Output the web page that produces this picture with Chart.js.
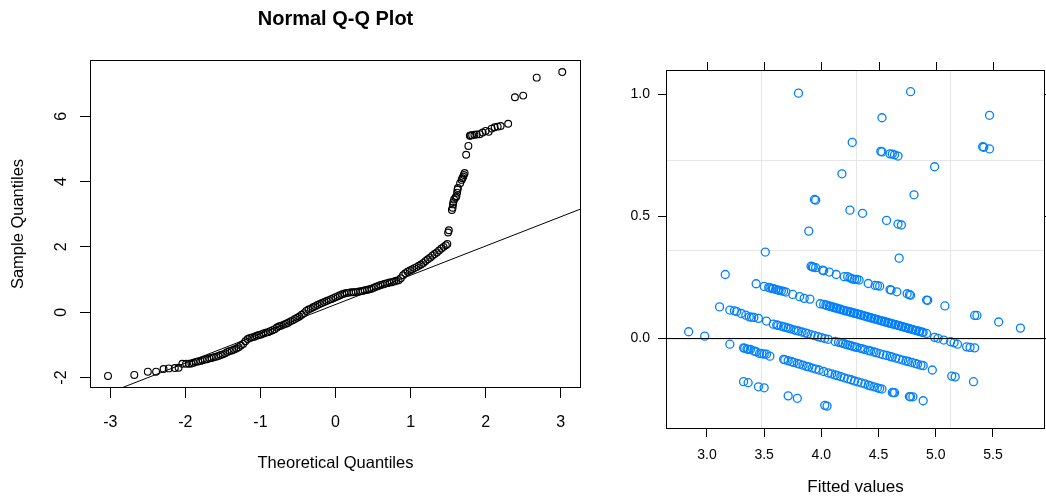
<!DOCTYPE html>
<html><head><meta charset="utf-8">
<script src="https://cdn.jsdelivr.net/npm/chart.js@4/dist/chart.umd.min.js"></script>
<style>
html,body{margin:0;padding:0;background:#fff;overflow:hidden;width:1046px;height:500px;}
#c1{position:absolute;left:0;top:0;}
#c2{position:absolute;left:600px;top:0;}
</style></head><body>
<canvas id="c1" width="620" height="500"></canvas>
<canvas id="c2" width="460" height="500"></canvas>
<script>
// ---------- Left panel: Normal Q-Q plot (theoretical, sample) ----------
const qqPoints = [
[-3.03,-1.95],[-2.68,-1.92],[-2.50,-1.82],[-2.39,-1.82],[-2.29,-1.74],[-2.22,-1.72],[-2.14,-1.71],[-2.09,-1.70],
[-2.04,-1.58],[-1.99,-1.58],[-1.95,-1.58],[-1.92,-1.57],[-1.89,-1.55],[-1.86,-1.52],[-1.83,-1.51],[-1.80,-1.49],
[-1.77,-1.47],[-1.74,-1.45],[-1.71,-1.44],[-1.68,-1.41],[-1.65,-1.40],[-1.62,-1.38],[-1.59,-1.36],[-1.56,-1.34],
[-1.53,-1.31],[-1.50,-1.29],[-1.47,-1.26],[-1.44,-1.22],[-1.41,-1.19],[-1.38,-1.17],[-1.35,-1.14],[-1.32,-1.11],
[-1.29,-1.07],[-1.26,-1.02],[-1.23,-0.97],[-1.20,-0.89],
[-1.17,-0.82],[-1.14,-0.79],[-1.11,-0.77],[-1.08,-0.75],[-1.05,-0.72],[-1.02,-0.70],[-0.99,-0.68],[-0.96,-0.65],
[-0.93,-0.63],[-0.90,-0.61],[-0.87,-0.58],[-0.84,-0.55],[-0.81,-0.52],[-0.78,-0.47],[-0.75,-0.43],[-0.72,-0.41],
[-0.69,-0.38],[-0.66,-0.35],[-0.63,-0.32],[-0.60,-0.28],[-0.57,-0.25],[-0.54,-0.21],[-0.51,-0.17],[-0.48,-0.13],
[-0.45,-0.08],[-0.42,-0.03],[-0.39,0.04],[-0.36,0.08],[-0.33,0.11],[-0.30,0.15],[-0.27,0.18],[-0.24,0.22],
[-0.21,0.25],[-0.18,0.28],[-0.15,0.31],[-0.12,0.34],[-0.09,0.37],[-0.06,0.40],[-0.03,0.43],[0.00,0.46],
[0.03,0.49],[0.06,0.52],[0.09,0.55],[0.12,0.57],[0.15,0.59],[0.18,0.60],[0.21,0.61],[0.24,0.61],
[0.27,0.62],[0.30,0.63],[0.33,0.64],[0.36,0.65],[0.39,0.67],[0.42,0.68],[0.45,0.70],[0.48,0.72],
[0.51,0.75],[0.54,0.78],[0.57,0.80],[0.60,0.83],[0.63,0.85],[0.66,0.87],[0.69,0.89],[0.72,0.91],
[0.75,0.92],[0.78,0.94],[0.81,0.96],[0.84,0.98],[0.87,1.04],
[0.90,1.13],[0.93,1.19],[0.96,1.24],[0.99,1.28],[1.02,1.31],[1.05,1.35],[1.08,1.38],[1.11,1.42],
[1.14,1.46],[1.17,1.51],[1.20,1.57],[1.23,1.62],[1.26,1.67],[1.29,1.73],[1.32,1.78],[1.35,1.83],
[1.38,1.89],[1.41,1.95],[1.44,2.00],[1.47,2.05],[1.49,2.09],[1.50,2.44],[1.51,2.51],
[1.55,3.13],[1.56,3.20],[1.565,3.30],[1.57,3.37],[1.58,3.45],[1.60,3.51],[1.61,3.55],[1.62,3.66],
[1.625,3.75],[1.63,3.80],[1.66,3.95],[1.68,4.05],[1.69,4.10],[1.70,4.15],[1.71,4.20],[1.72,4.26],
[1.74,4.82],[1.77,5.09],[1.79,5.40],[1.80,5.41],[1.82,5.42],[1.85,5.43],[1.88,5.44],[1.92,5.45],
[1.96,5.50],[2.00,5.55],[2.04,5.52],[2.08,5.62],[2.12,5.66],[2.16,5.68],[2.20,5.70],[2.30,5.77],
[2.39,6.58],[2.50,6.63],[2.68,7.18],[3.02,7.35]
];
const qqLine = [[-3.3,-2.72],[3.3,3.19]];
const qqXTicks = [-3,-2,-1,0,1,2,3];
const qqYTicks = [-2,0,2,4,6];

// ---------- Right panel: residuals vs fitted values (fitted, residual) ----------
const bandA = [
[3.91,0.295],[3.92,0.293],[3.93,0.291],[3.95,0.289],[4.01,0.279],[4.02,0.276],[4.07,0.271],[4.13,0.261],
[4.20,0.252],[4.23,0.252],[4.25,0.247],[4.27,0.243],[4.29,0.241],[4.31,0.241],[4.33,0.238],[4.41,0.224],
[4.47,0.216],[4.49,0.215],[4.51,0.213],[4.60,0.199],[4.61,0.197],[4.66,0.190],[4.75,0.182],[4.77,0.178],
[4.78,0.176],[4.92,0.156],[4.93,0.155],[5.08,0.132],[5.34,0.093],[5.36,0.093],[5.55,0.066],[5.74,0.041]
];
const bandB = [
[3.43,0.223],[3.50,0.212],[3.54,0.208],[3.55,0.206],[3.57,0.204],[3.58,0.203],[3.60,0.200],[3.62,0.197],
[3.63,0.196],[3.65,0.194],[3.67,0.192],[3.69,0.189],[3.75,0.179],[3.81,0.170],[3.85,0.163],[3.90,0.160],
[3.99,0.141],[4.02,0.138],[4.04,0.136],[4.05,0.133],[4.07,0.132],[4.08,0.129],[4.10,0.128],[4.11,0.125],
[4.13,0.124],[4.14,0.121],[4.16,0.120],[4.17,0.117],[4.19,0.115],[4.20,0.113],[4.22,0.111],[4.23,0.110],
[4.25,0.107],[4.26,0.106],[4.28,0.103],[4.29,0.102],[4.31,0.100],[4.32,0.098],[4.34,0.096],[4.35,0.094],
[4.37,0.092],[4.38,0.090],[4.40,0.088],[4.41,0.086],[4.43,0.084],[4.44,0.082],[4.46,0.080],[4.47,0.078],
[4.49,0.076],[4.50,0.074],[4.52,0.072],[4.53,0.070],[4.55,0.068],[4.56,0.066],[4.58,0.064],[4.59,0.062],
[4.61,0.060],[4.62,0.058],[4.64,0.056],[4.65,0.055],[4.67,0.052],[4.68,0.051],[4.70,0.048],[4.71,0.047],
[4.73,0.044],[4.74,0.043],[4.76,0.040],[4.77,0.039],[4.79,0.036],[4.80,0.035],[4.82,0.032],[4.83,0.031],
[4.85,0.028],[4.86,0.027],[4.88,0.024],[4.89,0.023],[4.92,0.019],
[4.99,0.003],[5.02,-0.001],[5.07,-0.008],[5.13,-0.015],[5.16,-0.019],[5.19,-0.025],[5.27,-0.036],[5.30,-0.038],[5.34,-0.040]
];
const bandC = [
[3.11,0.128],[3.20,0.115],[3.24,0.112],[3.26,0.109],[3.30,0.101],[3.34,0.094],[3.37,0.087],[3.39,0.086],
[3.41,0.085],[3.45,0.081],[3.52,0.070],
[3.58,0.057],[3.61,0.054],[3.62,0.052],[3.65,0.049],[3.67,0.046],[3.69,0.044],[3.71,0.041],[3.73,0.038],
[3.76,0.034],[3.78,0.031],[3.80,0.029],[3.83,0.025],[3.86,0.021],[3.88,0.018],[3.91,0.014],[3.94,0.010],
[3.97,0.006],[4.00,0.002],[4.03,-0.002],[4.06,-0.005],[4.12,-0.014],[4.15,-0.017],[4.17,-0.019],[4.19,-0.022],
[4.21,-0.025],[4.23,-0.028],[4.25,-0.030],[4.27,-0.033],[4.29,-0.036],[4.31,-0.038],[4.34,-0.042],[4.36,-0.044],
[4.38,-0.047],[4.41,-0.051],[4.43,-0.053],[4.46,-0.057],[4.48,-0.060],[4.51,-0.064],[4.54,-0.068],[4.57,-0.071],
[4.60,-0.075],[4.62,-0.078],[4.65,-0.082],[4.68,-0.086],[4.71,-0.090],[4.74,-0.094],[4.76,-0.096],[4.79,-0.100],
[4.82,-0.104],[4.84,-0.107],[4.87,-0.111],[4.89,-0.113],
[4.97,-0.131],[5.14,-0.156],[5.17,-0.159],[5.33,-0.179]
];
const bandD = [
[3.20,-0.025],[3.32,-0.040],[3.33,-0.042],[3.35,-0.045],[3.36,-0.046],[3.38,-0.046],[3.41,-0.053],[3.43,-0.056],
[3.46,-0.063],[3.48,-0.064],[3.50,-0.066],[3.52,-0.066],[3.55,-0.074],
[3.67,-0.087],[3.68,-0.089],[3.71,-0.093],[3.74,-0.097],[3.76,-0.100],[3.79,-0.104],[3.81,-0.107],[3.84,-0.111],
[3.87,-0.116],[3.89,-0.118],[3.92,-0.123],[3.95,-0.127],[3.98,-0.131],[4.02,-0.137],[4.06,-0.143],[4.09,-0.147],
[4.12,-0.151],[4.14,-0.154],[4.17,-0.158],[4.20,-0.163],[4.23,-0.167],[4.26,-0.171],[4.29,-0.176],[4.32,-0.180],
[4.35,-0.184],[4.38,-0.188],[4.41,-0.193],[4.43,-0.196],[4.46,-0.200],[4.49,-0.204],[4.51,-0.207],[4.53,-0.209],
[4.62,-0.223],[4.63,-0.224],[4.64,-0.224],[4.77,-0.240],[4.78,-0.241],[4.80,-0.241],[4.89,-0.257]
];
const bandE = [
[3.32,-0.179],[3.36,-0.183],[3.45,-0.200],[3.50,-0.204],[3.71,-0.237],[3.79,-0.247],[4.03,-0.276],[4.05,-0.279]
];
const residOther = [
[2.84,0.026],[2.98,0.008],[3.16,0.261],[3.51,0.353],[4.68,0.328],[3.80,1.005],[4.78,1.011],[4.53,0.904],
[5.47,0.914],[4.27,0.803],[4.52,0.766],[4.53,0.764],[4.60,0.756],[4.62,0.755],[4.64,0.752],[4.67,0.747],
[5.41,0.785],[5.42,0.783],[5.47,0.776],[4.99,0.703],[4.18,0.674],[4.81,0.588],[3.94,0.569],[3.95,0.566],
[4.25,0.525],[4.36,0.512],[4.57,0.483],[4.67,0.468],[4.70,0.464],[3.89,0.439]
];
const fitXTicks = [3.0,3.5,4.0,4.5,5.0,5.5];
const fitYTicks = [0.0,0.5,1.0];
const refLineY = 0;

// ---------- drawing ----------
const FONT = "'Liberation Sans', Arial, Helvetica, sans-serif";
const toXY = arr => arr.map(p => ({x: p[0], y: p[1]}));

const boxPlugin = {
  id: 'box',
  afterDraw(chart) {
    const {ctx, chartArea: a} = chart;
    ctx.save();
    ctx.strokeStyle = '#000';
    ctx.lineWidth = 1;
    ctx.strokeRect(Math.round(a.left) + 0.5, Math.round(a.top) + 0.5,
      Math.round(a.right - a.left) - 1, Math.round(a.bottom - a.top) - 1);
    ctx.restore();
  }
};

const qqYLabels = {
  id: 'qqYLabels',
  afterDraw(chart) {
    const {ctx} = chart;
    const ys = chart.scales.y;
    ctx.save();
    ctx.fillStyle = '#000';
    ctx.font = '16px ' + FONT;
    ctx.textAlign = 'center';
    ctx.textBaseline = 'middle';
    qqYTicks.forEach(v => {
      ctx.save();
      ctx.translate(62, ys.getPixelForValue(v));
      ctx.rotate(-Math.PI / 2);
      ctx.fillText(String(v), 0, 0);
      ctx.restore();
    });
    ctx.restore();
  }
};

new Chart(document.getElementById('c1'), {
  type: 'scatter',
  data: { datasets: [
    { data: toXY(qqLine), showLine: true, borderColor: '#000', borderWidth: 1, pointRadius: 0, tension: 0, fill: false },
    { data: toXY(qqPoints), pointRadius: 3.4, pointBorderWidth: 1.15, borderColor: '#000',
      backgroundColor: 'rgba(0,0,0,0)', pointStyle: 'circle' }
  ]},
  options: {
    responsive: false, animation: false, devicePixelRatio: 1,
    layout: { padding: { left: 0, top: 0, right: 39, bottom: 0 } },
    plugins: {
      legend: { display: false }, tooltip: { enabled: false },
      title: { display: true, text: 'Normal Q-Q Plot', fullSize: false, color: '#000',
        font: { family: FONT, size: 20, weight: 'bold', lineHeight: 1.2 }, padding: { top: 7, bottom: 29 } }
    },
    scales: {
      x: {
        type: 'linear', position: 'bottom', min: -3.27, max: 3.27,
        afterBuildTicks: s => { s.ticks = qqXTicks.map(v => ({ value: v })); },
        afterFit: s => { s.height = 112; },
        grid: { display: true, drawOnChartArea: false, drawTicks: true, tickLength: 10, color: '#000', tickColor: '#000', tickWidth: 1 },
        border: { display: false },
        ticks: { color: '#000', font: { family: FONT, size: 16, lineHeight: 1.2 }, padding: 15,
          maxRotation: 0, minRotation: 0, autoSkip: false, callback: v => String(v) },
        title: { display: true, text: 'Theoretical Quantiles', color: '#000',
          font: { family: FONT, size: 16.5, lineHeight: 1.2 }, padding: { top: 0, bottom: 27 } }
      },
      y: {
        type: 'linear', position: 'left', min: -2.32, max: 7.72,
        afterBuildTicks: s => { s.ticks = qqYTicks.map(v => ({ value: v })); },
        afterFit: s => { s.width = 90; },
        grid: { display: true, drawOnChartArea: false, drawTicks: true, tickLength: 10, color: '#000', tickColor: '#000', tickWidth: 1 },
        border: { display: false },
        ticks: { display: false },
        title: { display: true, text: 'Sample Quantiles', color: '#000',
          font: { family: FONT, size: 16.5, lineHeight: 1.2 }, padding: { top: 9, bottom: 0 } }
      }
    }
  },
  plugins: [boxPlugin, qqYLabels]
});

const latticeExtras = {
  id: 'latticeExtras',
  beforeDatasetsDraw(chart) {
    const {ctx, chartArea: a} = chart;
    ctx.save();
    ctx.strokeStyle = '#e6e6e6';
    ctx.lineWidth = 1;
    ctx.beginPath();
    for (let k = 1; k <= 3; k++) {
      const x = Math.round(a.left + (a.right - a.left) * k / 4) + 0.5;
      const y = Math.round(a.top + (a.bottom - a.top) * k / 4) + 0.5;
      ctx.moveTo(x, a.top); ctx.lineTo(x, a.bottom);
      ctx.moveTo(a.left, y); ctx.lineTo(a.right, y);
    }
    ctx.stroke();
    ctx.restore();
  },
  afterDatasetsDraw(chart) {
    const {ctx, chartArea: a, scales} = chart;
    ctx.save();
    ctx.strokeStyle = '#000';
    ctx.lineWidth = 1;
    const y0 = Math.round(scales.y.getPixelForValue(refLineY)) + 0.5;
    ctx.beginPath(); ctx.moveTo(a.left, y0); ctx.lineTo(a.right, y0); ctx.stroke();
    // top and right tick marks (lattice style)
    ctx.beginPath();
    fitXTicks.forEach(v => {
      const x = Math.round(scales.x.getPixelForValue(v)) + 0.5;
      ctx.moveTo(x, a.top); ctx.lineTo(x, a.top - 8);
    });
    fitYTicks.forEach(v => {
      const y = Math.round(scales.y.getPixelForValue(v)) + 0.5;
      ctx.moveTo(a.right, y); ctx.lineTo(a.right + 8, y);
    });
    ctx.stroke();
    ctx.restore();
  }
};

const resPoints = toXY([].concat(bandA, bandB, bandC, bandD, bandE, residOther));

new Chart(document.getElementById('c2'), {
  type: 'scatter',
  data: { datasets: [
    { data: resPoints, pointRadius: 4, pointBorderWidth: 1.3, borderColor: '#0080ff',
      backgroundColor: 'rgba(0,0,0,0)', pointStyle: 'circle' }
  ]},
  options: {
    responsive: false, animation: false, devicePixelRatio: 1,
    layout: { padding: { left: 0, top: 70, right: 15, bottom: 0 } },
    plugins: { legend: { display: false }, tooltip: { enabled: false }, title: { display: false } },
    scales: {
      x: {
        type: 'linear', position: 'bottom', min: 2.642, max: 5.955,
        afterBuildTicks: s => { s.ticks = fitXTicks.map(v => ({ value: v })); },
        afterFit: s => { s.height = 71; },
        grid: { display: true, drawOnChartArea: false, drawTicks: true, tickLength: 8, color: '#000', tickColor: '#000', tickWidth: 1 },
        border: { display: false },
        ticks: { color: '#000', font: { family: FONT, size: 14, lineHeight: 1.2 }, padding: 10,
          maxRotation: 0, minRotation: 0, autoSkip: false, callback: v => Number(v).toFixed(1) },
        title: { display: true, text: 'Fitted values', color: '#000',
          font: { family: FONT, size: 17, lineHeight: 1.2 }, padding: { top: 0, bottom: 2 } }
      },
      y: {
        type: 'linear', position: 'left', min: -0.373, max: 1.10,
        afterBuildTicks: s => { s.ticks = fitYTicks.map(v => ({ value: v })); },
        afterFit: s => { s.width = 66; },
        grid: { display: true, drawOnChartArea: false, drawTicks: true, tickLength: 8, color: '#000', tickColor: '#000', tickWidth: 1 },
        border: { display: false },
        ticks: { color: '#000', font: { family: FONT, size: 14, lineHeight: 1.2 }, padding: 8,
          autoSkip: false, callback: v => Number(v).toFixed(1) }
      }
    }
  },
  plugins: [boxPlugin, latticeExtras]
});
</script>
</body></html>
